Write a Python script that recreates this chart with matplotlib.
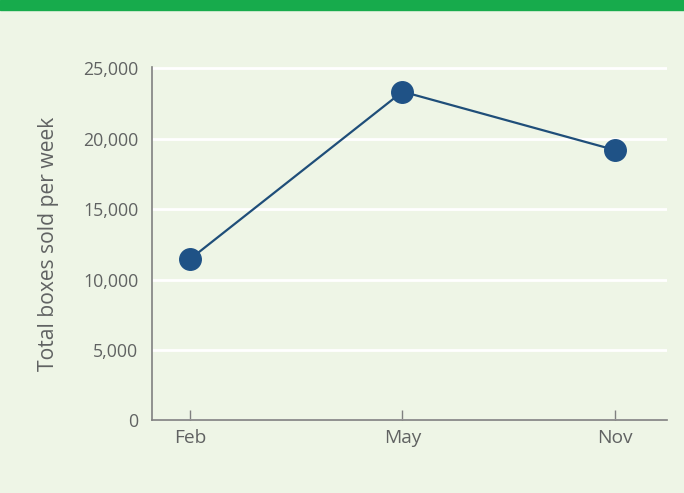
import matplotlib
matplotlib.use("Agg")
import matplotlib.pyplot as plt
from matplotlib.ticker import FuncFormatter
from matplotlib.patches import Rectangle

months = ["Feb", "May", "Nov"]
boxes = [11450, 23350, 19200]
yticks = [0, 5000, 10000, 15000, 20000, 25000]

bg = "#eef5e6"
txt = "#606262"

plt.rcParams["font.family"] = ["Open Sans", "DejaVu Sans"]

fig = plt.figure(figsize=(6.84, 4.93), dpi=100, facecolor=bg)
fig.patches.append(Rectangle((0, 1 - 10 / 493), 1, 10 / 493, transform=fig.transFigure,
                             color="#17ab4c", zorder=0))
ax = fig.add_axes([152 / 684, 1 - 420.3 / 493, (667 - 152) / 684, (420.3 - 67) / 493])
ax.set_facecolor(bg)

x = list(range(len(months)))
ax.plot(x, boxes, color="#1f4e79", lw=1.6, marker="o", markersize=15.5,
        markerfacecolor="#1f5286", markeredgecolor="#1f5286", zorder=3)

ax.set_xlim(-0.179, 2.245)
ax.set_ylim(0, 25100)
ax.set_yticks(yticks)
ax.yaxis.set_major_formatter(FuncFormatter(lambda v, p: f"{int(v):,}"))
ax.set_xticks(x)
ax.set_xticklabels(months)
ax.grid(axis="y", color="white", lw=2)
ax.set_axisbelow(True)

for s in ["top", "right"]:
    ax.spines[s].set_visible(False)
for s in ["left", "bottom"]:
    ax.spines[s].set_color("#808080")
    ax.spines[s].set_linewidth(1.2)

ax.tick_params(axis="y", length=0, pad=10, labelsize=12.8, labelcolor=txt)
ax.tick_params(axis="x", direction="in", length=7, width=1, color="#808080",
               pad=6, labelsize=13.8, labelcolor=txt)
ax.set_ylabel("Total boxes sold per week", fontsize=15.2, color=txt, labelpad=17)

fig.savefig("out.png", dpi=100, facecolor=bg)
